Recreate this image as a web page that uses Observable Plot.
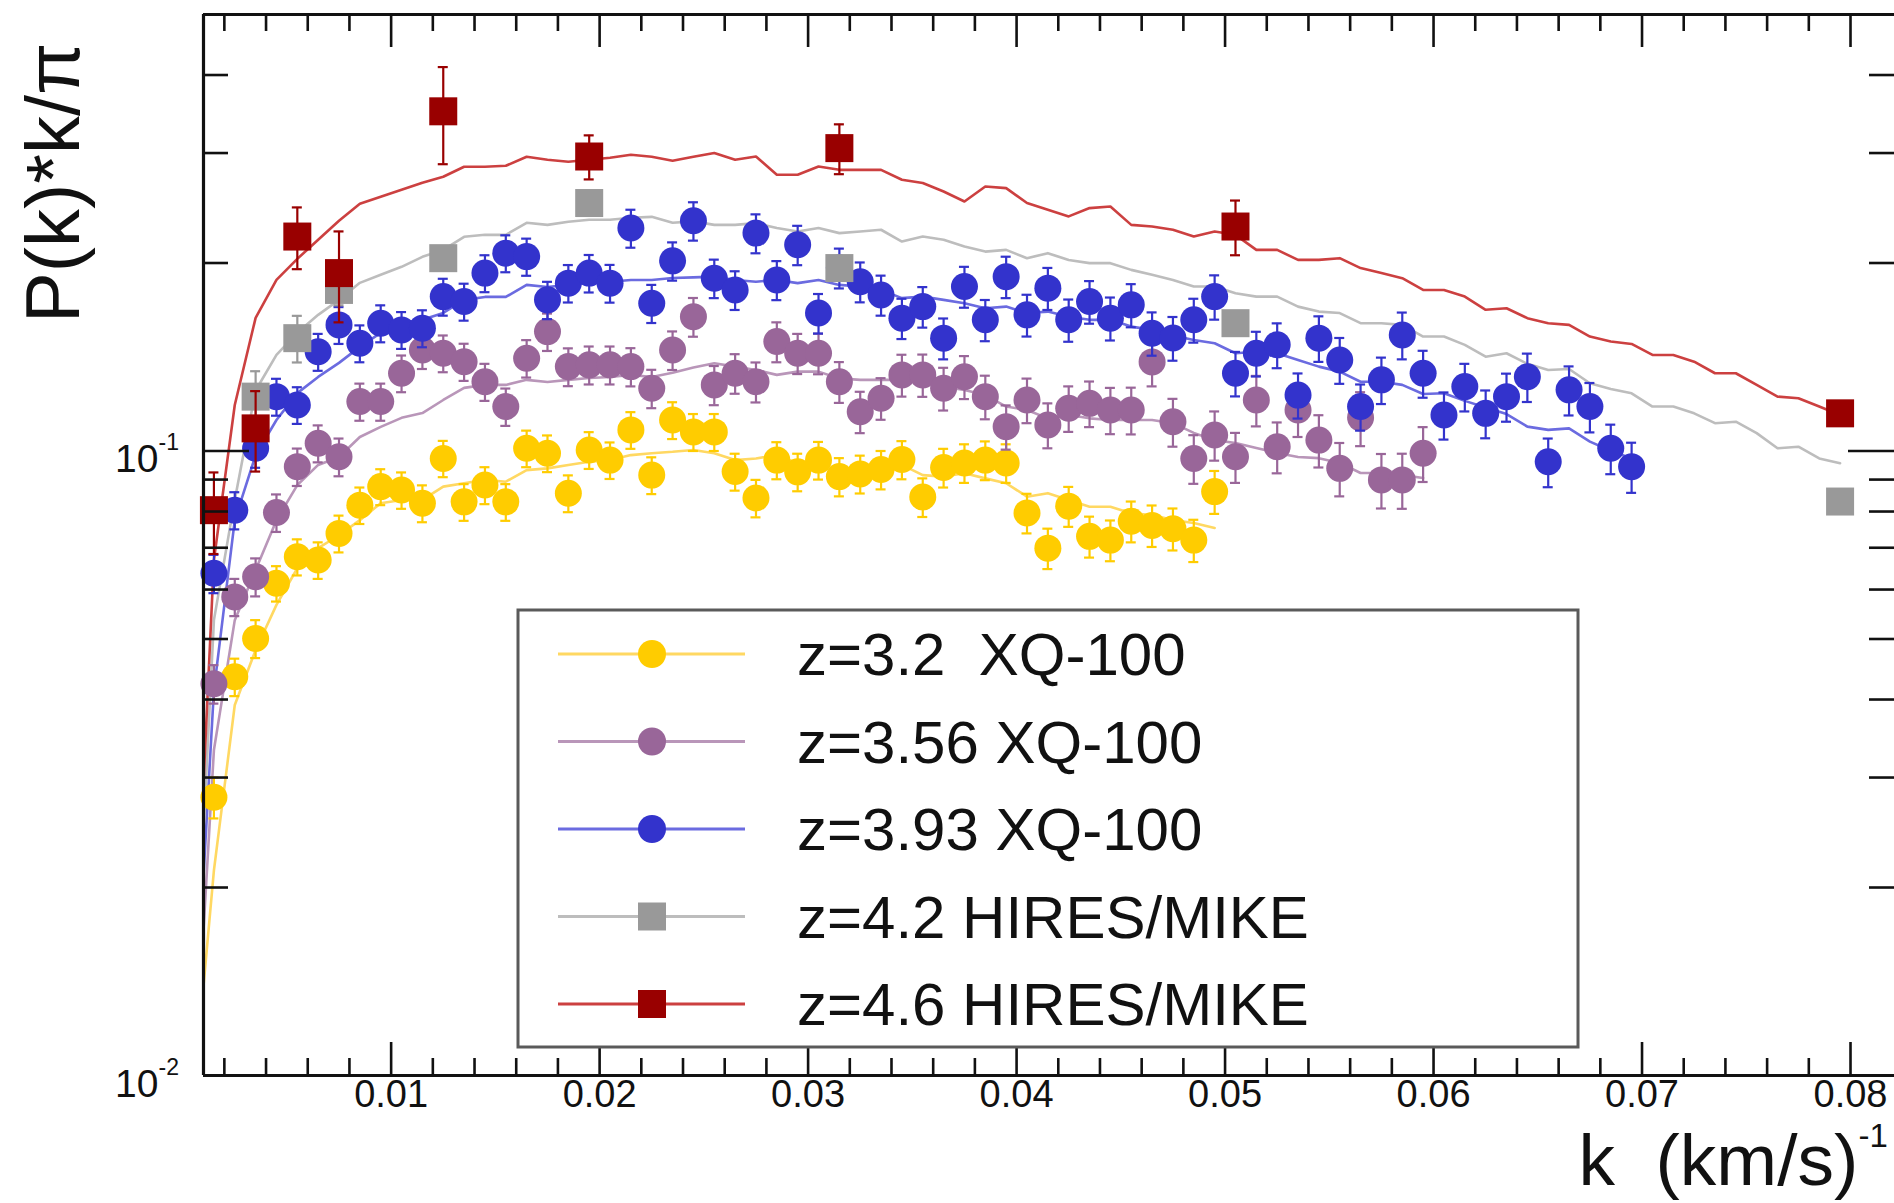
<!DOCTYPE html>
<html><head><meta charset="utf-8">
<script src="https://cdn.jsdelivr.net/npm/d3@7"></script>
<script src="https://cdn.jsdelivr.net/npm/@observablehq/plot@0.6"></script>
<style>
html,body{margin:0;padding:0;background:#fff;overflow:hidden}
#chart{position:relative;width:1894px;height:1203px}
svg text{white-space:pre}
</style></head><body><div id="chart"></div>
<script>
// ---------------- data ----------------
const kXQ = [0.0015,0.0025,0.0035,0.0045,0.0055,0.0065,0.0075,0.0085,0.0095,0.0105,
 0.0115,0.0125,0.0135,0.0145,0.0155,0.0165,0.0175,0.0185,0.0195,0.0205,
 0.0215,0.0225,0.0235,0.0245,0.0255,0.0265,0.0275,0.0285,0.0295,0.0305,
 0.0315,0.0325,0.0335,0.0345,0.0355,0.0365,0.0375,0.0385,0.0395,0.0405,
 0.0415,0.0425,0.0435,0.0445,0.0455,0.0465,0.0475,0.0485,0.0495,0.0505,
 0.0515,0.0525,0.0535,0.0545,0.0555,0.0565,0.0575,0.0585,0.0595,0.0605,
 0.0615,0.0625,0.0635,0.0645,0.0655,0.0665,0.0675,0.0685,0.0695];

const yellowP = [0.0279,0.0435,0.0501,0.0614,0.0677,0.0669,0.0738,0.0819,0.0877,0.0866,
 0.0825,0.0973,0.0829,0.0882,0.0829,0.101,0.0992,0.0856,0.1004,0.0967,
 0.1081,0.0915,0.1121,0.1073,0.1073,0.0927,0.0841,0.0967,0.0926,0.0967,
 0.091,0.0919,0.0934,0.0969,0.0844,0.0941,0.0957,0.0967,0.0957,0.0796,
 0.0699,0.0816,0.073,0.072,0.0772,0.076,0.0751,0.072,0.0861];
const yellowErr = [0.0021,0.003,0.0035,0.004,0.0045,0.0045,0.005,0.0055,0.0058,0.0058,
 0.0056,0.0065,0.0056,0.006,0.0056,0.0068,0.0067,0.0058,0.0068,0.0065,
 0.0073,0.0062,0.0076,0.0073,0.0073,0.0063,0.0058,0.0066,0.0064,0.0067,
 0.0064,0.0064,0.0066,0.0068,0.006,0.0067,0.0068,0.0069,0.0068,0.0058,
 0.0052,0.006,0.0055,0.0054,0.0058,0.0058,0.0058,0.0056,0.0068];

const purpleP = [0.0424,0.0584,0.0629,0.0797,0.0944,0.1029,0.0979,0.120,0.120,0.1332,
 0.1451,0.1434,0.139,0.1291,0.1178,0.1408,0.1553,0.1365,0.1374,0.1374,
 0.1365,0.126,0.1451,0.1641,0.1276,0.1332,0.1291,0.1497,0.1434,0.1434,
 0.1291,0.1156,0.1215,0.1324,0.1324,0.126,0.1315,0.1222,0.1094,0.1207,
 0.1101,0.1171,0.1192,0.1163,0.1163,0.1389,0.1114,0.0973,0.1061,0.0979,
 0.1207,0.1016,0.1163,0.1041,0.0938,0.113,0.0899,0.0899,0.0992];
const purpleErr = [0.003,0.004,0.0044,0.0055,0.0065,0.007,0.0068,0.0082,0.0082,0.009,
 0.0098,0.0097,0.0095,0.0088,0.0081,0.0097,0.0107,0.0095,0.0096,0.0096,
 0.0096,0.0089,0.0103,0.0117,0.0092,0.0097,0.0095,0.011,0.0106,0.0107,
 0.0097,0.0088,0.0093,0.0102,0.0103,0.0099,0.0104,0.0098,0.0089,0.0099,
 0.0091,0.0098,0.01,0.0099,0.01,0.012,0.0098,0.0087,0.0096,0.009,
 0.0112,0.0095,0.011,0.01,0.0092,0.0112,0.009,0.0091,0.01];

const blueP = [0.0637,0.0804,0.101,0.1222,0.1185,0.1442,0.1592,0.1488,0.1602,0.1563,
 0.1573,0.1767,0.1735,0.1927,0.2074,0.2048,0.1746,0.1857,0.1927,0.1857,
 0.2275,0.1724,0.2016,0.2337,0.1891,0.1811,0.2233,0.1879,0.2139,0.1663,
 0.1965,0.1867,0.1778,0.1632,0.1703,0.1516,0.1834,0.1622,0.1902,0.1652,
 0.1823,0.1622,0.1735,0.1632,0.1714,0.1544,0.1517,0.1622,0.1767,0.1332,
 0.1434,0.1479,0.1229,0.1516,0.1399,0.1178,0.130,0.1534,0.1332,0.1142,
 0.1268,0.1149,0.1222,0.1315,0.0961,0.1253,0.1178,0.101,0.0944];
const blueErr = [0.0045,0.0055,0.007,0.0083,0.008,0.0098,0.0108,0.0101,0.0109,0.0106,
 0.0107,0.012,0.0118,0.0131,0.0141,0.014,0.012,0.0128,0.0133,0.0129,
 0.0159,0.0121,0.0142,0.0165,0.0134,0.0129,0.016,0.0135,0.0155,0.0121,
 0.0144,0.0137,0.0131,0.0121,0.0127,0.0114,0.0138,0.0123,0.0145,0.0127,
 0.0141,0.0126,0.0136,0.0129,0.0136,0.0123,0.0122,0.0131,0.0144,0.0109,
 0.0118,0.0122,0.0102,0.0127,0.0118,0.01,0.0111,0.0132,0.0115,0.0099,
 0.0111,0.0101,0.0108,0.0117,0.0086,0.0113,0.0107,0.0092,0.0087];

const kHires = [0.0015,0.0035,0.0055,0.0075,0.0125,0.0195,0.0315,0.0505,0.0795];
const redP   = [0.0804,0.1087,0.2205,0.1927,0.3499,0.2962,0.3055,0.2288,0.1149];
const redErr = [0.012,0.016,0.025,0.032,0.062,0.024,0.028,0.023,0.0035];
const kGray  = [0.0035,0.0055,0.0075,0.0125,0.0195,0.0315,0.0505,0.0795];
const grayP  = [0.1222,0.1516,0.1811,0.2036,0.2495,0.1963,0.1602,0.0830];
const grayErr= [0.012,0.013,0.010,0.008,0.008,0.008,0.007,0.003];

const kModel = [0.001,0.0015,0.0025,0.0035,0.0045,0.0055,0.0065,0.0075,0.0085,0.0095,0.0105,
 0.0115,0.0125,0.0135,0.0145,0.0155,0.0165,0.0175,0.0185,0.0195,0.0205,
 0.0215,0.0225,0.0235,0.0245,0.0255,0.0265,0.0275,0.0285,0.0295,0.0305,
 0.0315,0.0325,0.0335,0.0345,0.0355,0.0365,0.0375,0.0385,0.0395,0.0405,
 0.0415,0.0425,0.0435,0.0445,0.0455,0.0465,0.0475,0.0485,0.0495,0.0505,
 0.0515,0.0525,0.0535,0.0545,0.0555,0.0565,0.0575,0.0585,0.0595,0.0605,
 0.0615,0.0625,0.0635,0.0645,0.0655,0.0665,0.0675,0.0685,0.0695,0.0705,
 0.0715,0.0725,0.0735,0.0745,0.0755,0.0765,0.0775,0.0785,0.0795];

const yellowModel = [0.0139,0.0213,0.0392,0.048,0.0567,0.0649,0.0699,0.0733,0.0775,0.0825,0.0835,
 0.0835,0.0877,0.0888,0.0899,0.0893,0.0932,0.0938,0.095,0.0961,0.0967,
 0.0985,0.0992,0.0997,0.1004,0.0992,0.0967,0.0973,0.0985,0.0956,0.095,
 0.0932,0.0921,0.0921,0.095,0.0915,0.091,0.0921,0.0904,0.0888,0.0845,
 0.0856,0.0835,0.0814,0.0814,0.0795,0.079,0.0775,0.0767,0.0753];
const purpleModel = [0.0171,0.0332,0.0536,0.0645,0.0775,0.0882,0.095,0.0978,0.1053,0.1093,0.113,
 0.115,0.1207,0.1262,0.1276,0.1276,0.13,0.129,0.13,0.1309,0.1314,
 0.1324,0.1314,0.1334,0.1361,0.1382,0.1365,0.1348,0.1324,0.134,0.134,
 0.1307,0.13,0.13,0.13,0.1291,0.1268,0.1252,0.1229,0.1178,0.1163,
 0.1128,0.1142,0.1128,0.1121,0.1121,0.1121,0.1108,0.1069,0.1041,0.103,
 0.1011,0.0993,0.0978,0.0974,0.0957,0.0922,0.0922,0.0915,0.0905];
const blueModel = [0.0209,0.0414,0.0775,0.0985,0.1121,0.1238,0.1314,0.1384,0.1468,0.1546,0.1604,
 0.1622,0.1664,0.1746,0.1765,0.1765,0.1845,0.1831,0.1845,0.1859,0.1866,
 0.1879,0.1879,0.1893,0.1897,0.1902,0.1879,0.1867,0.1879,0.1857,0.1879,
 0.1845,0.1834,0.1811,0.1757,0.1767,0.1746,0.1724,0.1693,0.1703,0.1663,
 0.1672,0.1641,0.1622,0.1622,0.1582,0.1563,0.1531,0.1506,0.1488,0.1434,
 0.1442,0.1434,0.1399,0.1365,0.134,0.1291,0.1291,0.1276,0.1234,0.1237,
 0.1203,0.1174,0.1146,0.1094,0.1081,0.1087,0.1035,0.1001,0.0973];
const grayModel = [0.0247,0.0536,0.0835,0.125,0.1425,0.1546,0.1652,0.1746,0.1859,0.1915,0.1972,
 0.2046,0.2099,0.2203,0.2219,0.2219,0.232,0.2302,0.2328,0.2346,0.2346,
 0.2363,0.2371,0.232,0.2332,0.2302,0.2302,0.2317,0.2275,0.2246,0.2275,
 0.2233,0.2246,0.2261,0.2165,0.2205,0.2179,0.2125,0.2086,0.2099,0.2036,
 0.2074,0.2023,0.1999,0.1999,0.195,0.1915,0.1879,0.1834,0.1834,0.1789,
 0.1767,0.1767,0.1703,0.1672,0.1663,0.1602,0.1602,0.1592,0.1525,0.1525,
 0.1479,0.1416,0.1434,0.1379,0.1348,0.1353,0.1284,0.1257,0.1237,0.1178,
 0.1178,0.1149,0.1108,0.1114,0.1068,0.101,0.1016,0.0973,0.0956];
const redModel = [0.0294,0.0669,0.1185,0.1634,0.1879,0.2031,0.2179,0.2337,0.2488,0.2553,0.262,
 0.2689,0.2749,0.2852,0.2852,0.2862,0.2959,0.2926,0.2905,0.2926,0.2948,
 0.2981,0.2959,0.2916,0.2959,0.300,0.2926,0.2962,0.2769,0.2769,0.2855,
 0.282,0.282,0.282,0.2719,0.2686,0.2603,0.2509,0.2652,0.2636,0.2495,
 0.2434,0.2375,0.2449,0.2464,0.2302,0.2288,0.2261,0.2205,0.2246,0.2219,
 0.2099,0.2099,0.2023,0.2023,0.2036,0.1963,0.1927,0.1891,0.1811,0.1811,
 0.1767,0.1683,0.1693,0.1632,0.1602,0.1592,0.1525,0.1497,0.1484,0.1425,
 0.1425,0.139,0.1332,0.1332,0.1276,0.1222,0.1215,0.1178,0.1142];

const legendLabels = ["z=3.2  XQ-100","z=3.56 XQ-100","z=3.93 XQ-100","z=4.2 HIRES/MIKE","z=4.6 HIRES/MIKE"];
const markerColors = ["#ffcc00","#996699","#3333cc","#999999","#990000"];
const lineColors   = ["#ffd862","#b996b9","#6b6be0","#bdbdbd","#cc4040"];
const markerShapes = ["circle","circle","circle","square","square"];

const xMajorTicks = [0.01,0.02,0.03,0.04,0.05,0.06,0.07,0.08];
const xTickLabels = ["0.01","0.02","0.03","0.04","0.05","0.06","0.07","0.08"];
const yMajorTicks = [0.1];
const yMinorTicks = [0.02,0.03,0.04,0.05,0.06,0.07,0.08,0.09,0.2,0.3,0.4];

// ---------------- layout ----------------
const W = 1894, H = 1203, ML = 203, MR = 0, MT = 14, MB = 128;
const FW = W - ML - MR, FH = H - MT - MB;
const FONT = "'Liberation Sans', Arial, Helvetica, sans-serif";

const xMinorTicks = d3.range(1, 41).map(i => +(i * 0.002).toFixed(3)).filter(v => !xMajorTicks.some(m => Math.abs(m - v) < 1e-9));

function pts(k, p, e) { return p.map((v, i) => ({k: k[i], p: v, e: e[i]})); }
function modelPts(p) { return p.map((v, i) => ({k: kModel[i], p: v})); }

const dataSets = [
  pts(kXQ, yellowP, yellowErr),
  pts(kXQ, purpleP, purpleErr),
  pts(kXQ, blueP, blueErr),
  pts(kGray, grayP, grayErr),
  pts(kHires, redP, redErr)
];
const models = [yellowModel, purpleModel, blueModel, grayModel, redModel].map(modelPts);

const marks = [];
// model lines
models.forEach((m, i) => marks.push(Plot.line(m, {x: "k", y: "p", stroke: lineColors[i], strokeWidth: 2.6, clip: true})));
// data with error bars
dataSets.forEach((d, i) => {
  const c = markerColors[i];
  marks.push(Plot.ruleX(d, {x: "k", y1: r => r.p - r.e, y2: r => r.p + r.e, stroke: c, strokeWidth: 2.2, clip: true}));
  marks.push(Plot.ruleY(d, {x1: "k", x2: "k", y: r => r.p + r.e, stroke: c, strokeWidth: 2.2, insetLeft: -5, insetRight: -5, clip: true}));
  marks.push(Plot.ruleY(d, {x1: "k", x2: "k", y: r => r.p - r.e, stroke: c, strokeWidth: 2.2, insetLeft: -5, insetRight: -5, clip: true}));
  if (markerShapes[i] === "circle")
    marks.push(Plot.dot(d, {x: "k", y: "p", r: 13.5, fill: c, stroke: "none"}));
  else
    marks.push(Plot.dot(d, {x: "k", y: "p", r: 15.8, symbol: "square", fill: c, stroke: "none"}));
});

// ticks (ROOT style, inside, all four sides)
const tk = {stroke: "#111", strokeWidth: 2.6};
marks.push(Plot.ruleX(xMinorTicks, {x: d => d, insetTop: FH - 17, ...tk}));
marks.push(Plot.ruleX(xMinorTicks, {x: d => d, insetBottom: FH - 17, ...tk}));
marks.push(Plot.ruleX(xMajorTicks, {x: d => d, insetTop: FH - 33, ...tk}));
marks.push(Plot.ruleX(xMajorTicks, {x: d => d, insetBottom: FH - 33, ...tk}));
marks.push(Plot.ruleY(yMinorTicks, {y: d => d, insetRight: FW - 25, ...tk}));
marks.push(Plot.ruleY(yMinorTicks, {y: d => d, insetLeft: FW - 25, ...tk}));
marks.push(Plot.ruleY(yMajorTicks, {y: d => d, insetRight: FW - 46, ...tk}));
marks.push(Plot.ruleY(yMajorTicks, {y: d => d, insetLeft: FW - 46, ...tk}));
// frame (left, bottom, top)
marks.push(Plot.ruleX([0.001], {x: d => d, stroke: "#111", strokeWidth: 3.2}));
marks.push(Plot.ruleY([0.01], {y: d => d, stroke: "#111", strokeWidth: 3.2}));
marks.push(Plot.ruleY([0.5], {y: d => d, stroke: "#111", strokeWidth: 3.2}));

// tick labels
marks.push(Plot.text(xMajorTicks, {x: d => d, text: (d, i) => xTickLabels[i], frameAnchor: "bottom", dy: 31, fontSize: 38, fill: "#111"}));
marks.push(Plot.text([0.1, 0.01], {y: d => d, text: () => "10", frameAnchor: "left", textAnchor: "end", dx: -45, dy: 9, fontSize: 39, fill: "#111"}));
marks.push(Plot.text([0.1, 0.01], {y: d => d, text: d => d === 0.1 ? "-1" : "-2", frameAnchor: "left", textAnchor: "start", dx: -45, dy: -8, fontSize: 23, fill: "#111"}));

// axis titles
marks.push(Plot.text(["P(k)*k/\u03c0"], {text: d => d, frameAnchor: "top-left", dx: 78 - ML, dy: 42 - MT, rotate: -90, textAnchor: "end", lineAnchor: "bottom", fontSize: 76, fill: "#111"}));
marks.push(Plot.text(["k  (km/s)"], {text: d => d, frameAnchor: "bottom-right", dx: 1578 - W, dy: 1184 - (H - MB), textAnchor: "start", lineAnchor: "bottom", fontSize: 73, fill: "#111"}));
marks.push(Plot.text(["-1"], {text: d => d, frameAnchor: "bottom-right", dx: 1858 - W, dy: 1146 - (H - MB), textAnchor: "start", lineAnchor: "bottom", fontSize: 33, fill: "#111"}));

const chart = Plot.plot({
  width: W, height: H,
  marginLeft: ML, marginRight: MR, marginTop: MT, marginBottom: MB,
  x: {type: "linear", domain: [0.001, 0.08211], axis: null},
  y: {type: "log", domain: [0.01, 0.5], axis: null},
  style: {fontFamily: FONT, background: "#fff", overflow: "visible"},
  marks
});
document.getElementById("chart").appendChild(chart);

// ---------------- legend (inside the frame) ----------------
const svg = d3.select(chart);
const lg = svg.append("g").attr("font-family", FONT).attr("text-anchor", "start");
const LX = 518, LY = 610, LW = 1060, LH = 437;
lg.append("rect").attr("x", LX).attr("y", LY).attr("width", LW).attr("height", LH)
  .attr("fill", "#fff").attr("stroke", "#5a5a5a").attr("stroke-width", 3);
legendLabels.forEach((lab, i) => {
  const cy = 654 + i * 87.5;
  lg.append("line").attr("x1", 558).attr("x2", 745).attr("y1", cy).attr("y2", cy)
    .attr("stroke", lineColors[i]).attr("stroke-width", 3);
  if (markerShapes[i] === "circle")
    lg.append("circle").attr("cx", 652).attr("cy", cy).attr("r", 14).attr("fill", markerColors[i]);
  else
    lg.append("rect").attr("x", 638).attr("y", cy - 14).attr("width", 28).attr("height", 28).attr("fill", markerColors[i]);
  lg.append("text").attr("x", 797).attr("y", cy + 21).attr("font-size", 60).attr("fill", "#111")
    .attr("text-anchor", "start").style("white-space", "pre").text(lab);
});
</script>
</body></html>
